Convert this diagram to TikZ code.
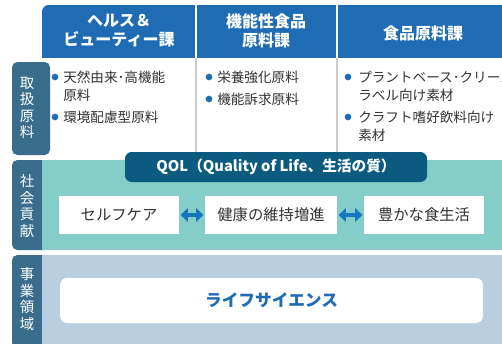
\documentclass[tikz,border=0pt]{standalone}
\usepackage{fontspec}
\setmainfont{Noto Sans CJK JP}
\usetikzlibrary{arrows.meta}
\definecolor{headblue}{HTML}{1F6CB5}
\definecolor{tabblue}{HTML}{3A6D8C}
\definecolor{qolblue}{HTML}{0B5B80}
\definecolor{bandteal}{HTML}{85CDC8}
\definecolor{bandgray}{HTML}{B9CFE0}
\definecolor{arrowblue}{HTML}{1577C0}
\definecolor{textgray}{HTML}{333333}
\definecolor{rulegray}{HTML}{CCCCCC}
\begin{document}
\begin{tikzpicture}[
    x=0.75pt, y=-0.75pt,
    every node/.style={align=center},
    tab box/.style={fill=tabblue, rounded corners=4pt},
    tab text/.style={text=white, font=\fontsize{10.8}{12.3}\selectfont},
    head text/.style={text=white, font=\fontsize{12}{14.2}\selectfont\bfseries},
    item text/.style={anchor=west, align=left, inner sep=0pt, text=textgray, font=\fontsize{10.2}{13.5}\selectfont},
    bullet/.style={circle, fill=headblue, inner sep=0pt, minimum size=5pt},
    value box/.style={fill=white, minimum width=90pt, minimum height=28.5pt, text=textgray, font=\fontsize{11.5}{14}\selectfont},
    double arrow/.style={draw=arrowblue, line width=3pt, {Triangle[width=10pt,length=5.5pt]}-{Triangle[width=10pt,length=5.5pt]}, shorten <=1pt, shorten >=1pt},
    ]
\useasboundingbox (0,0) rectangle (502,343);
\clip (0,0) rectangle (502,343);
\fill[headblue, rounded corners=5pt] (42,5) rectangle (520,70);
\fill[white] (42,58) rectangle (510,160);
\draw[white, line width=1.2pt] (196,5) -- (196,58);
\draw[white, line width=1.2pt] (337,5) -- (337,58);
\draw[rulegray, line width=0.8pt] (196,58) -- (196,155);
\draw[rulegray, line width=0.8pt] (337,58) -- (337,155);
\fill[tab box] (12,62) rectangle (50,155);
\fill[tab box] (12,160) rectangle (50,250);
\fill[tab box] (12,255) rectangle (50,348);
\fill[bandteal] (42,160) rectangle (510,250);
\fill[bandgray] (42,255) rectangle (510,350);
\node[tab text] (tabA) at (27,108) {取\\扱\\原\\料};
\node[tab text] (tabB) at (27,206) {社\\会\\貢\\献};
\node[tab text] (tabC) at (27,299) {事\\業\\領\\域};
\node[head text] (health) at (119,31) {ヘルス＆\\ビューティー課};
\node[head text] (functional) at (266,31) {機能性食品\\原料課};
\node[head text] (foodraw) at (423,33) {食品原料課};
\node[bullet] (hbA) at (55,77) {};
\node[item text] (hA) at (63,86) {天然由来･高機能\\原料};
\node[bullet] (hbB) at (55,117) {};
\node[item text] (hB) at (63,117) {環境配慮型原料};
\node[bullet] (fbA) at (209,77) {};
\node[item text] (fA) at (217,77) {栄養強化原料};
\node[bullet] (fbB) at (209,99) {};
\node[item text] (fB) at (217,99) {機能訴求原料};
\node[bullet] (rbA) at (348,77) {};
\node[item text] (rA) at (358,86) {プラントベース･クリーン\\ラベル向け素材};
\node[bullet] (rbB) at (348,117) {};
\node[item text] (rB) at (358,126) {クラフト嗜好飲料向け\\素材};
\node[fill=qolblue, rounded corners=5pt, minimum width=226.5pt, minimum height=22.5pt, text=white, font=\fontsize{11}{12}\selectfont\bfseries] (qol) at (276,167) {QOL（Quality of Life、生活の質）};
\node[value box] (selfcare) at (119,215) {セルフケア};
\node[value box, minimum width=99pt] (wellness) at (271,215) {健康の維持増進};
\node[value box] (richlife) at (424,215) {豊かな食生活};
\draw[double arrow] (selfcare) -- (wellness);
\draw[double arrow] (wellness) -- (richlife);
\node[fill=white, rounded corners=5pt, minimum width=317pt, minimum height=33.75pt, text=headblue, font=\fontsize{12.5}{14}\selectfont\bfseries] (lifescience) at (271.5,300.5) {ライフサイエンス};
\end{tikzpicture}
\end{document}
